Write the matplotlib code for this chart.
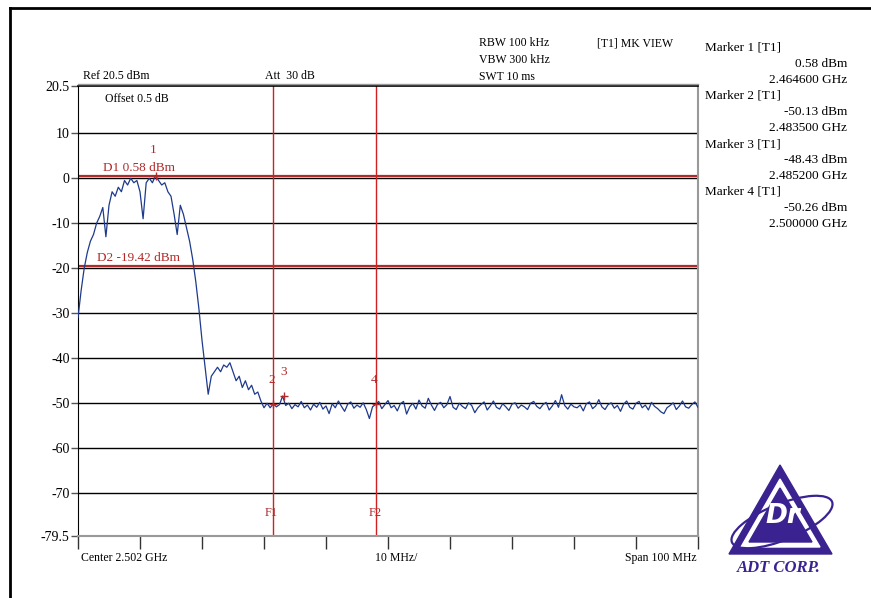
import numpy as np
import matplotlib
matplotlib.use("Agg")
import matplotlib.pyplot as plt
from matplotlib.patches import Polygon, Ellipse
from matplotlib.lines import Line2D

plt.rcParams['font.family'] = ['Liberation Serif', 'DejaVu Serif']

# sweep settings
f_start = 2452.0   # MHz
f_stop = 2552.0    # MHz
ref_level = 20.5
bottom_level = -79.5

# trace levels (dBm), one value per 0.5 MHz from 2452 to 2552 MHz
trace_lobe = [
    -31, -25, -20, -16.5, -14, -12.5, -10, -8.5, -6.5, -13,
    -6, -3, -4, -2, -3, -0.5, -1.5, 0, -1, -0.5,
    -3, -9, -1, 0, -1, 0.58, -0.5, -1.5, -1, -3,
    -4, -8, -12.5, -6, -8, -11, -14, -18, -23, -29,
    -36, -42, -48, -44, -43, -42, -43, -41.5, -42, -41,
    -43, -45, -44, -46.5, -45, -47, -46, -48, -47.5, -49.5,
    -51, -50, -51, -50.13, -50.8, -50.3, -48.4,
]
trace_floor = [
    -50.5, -50.0, -51.2, -50.3, -50.8, -49.6, -51.0, -50.4, -51.5, -50.2,
    -50.9, -49.8, -51.3, -50.6, -52.3, -50.1, -51.0, -49.5, -50.7, -51.8,
    -50.2, -49.7, -51.1, -50.4, -50.9, -49.9, -51.4, -53.4, -50.8, -50.26,
    -49.6, -51.2, -50.3, -49.4, -51.0, -50.5, -51.7, -50.1, -49.6, -52.4,
    -50.8, -50.0, -51.3, -49.3, -50.6, -51.1, -48.9, -50.4, -51.6, -50.2,
    -49.8, -51.0, -50.3, -48.5, -50.9, -51.4, -50.0, -50.7, -51.2, -49.9,
    -50.5, -52.1, -51.0, -50.3, -49.7, -51.5, -50.6, -49.5, -50.9, -51.3,
    -50.1, -50.8, -51.6, -50.2, -49.9, -51.1, -50.4, -50.8, -51.4, -50.0,
    -49.6, -50.7, -51.2, -50.3, -49.8, -51.5, -50.6, -49.4, -50.9, -48.1,
    -50.5, -51.3, -50.2, -50.8, -51.0, -50.4, -51.7, -50.1, -49.7, -51.2,
    -50.6, -49.2, -50.8, -51.4, -50.3, -49.9, -51.1, -50.5, -51.8, -50.2,
    -49.5, -50.9, -51.3, -50.0, -49.6, -51.0, -50.4, -51.5, -49.8, -50.7,
    -51.2, -51.9, -52.3, -51.0, -50.5, -49.9, -51.4, -50.6, -49.5, -50.8,
    -51.1, -50.3, -49.7, -50.9,
]
trace = np.array(trace_lobe + trace_floor)
freqs = np.linspace(f_start, f_stop, len(trace))

# markers
marker_freq = [2464.6, 2483.5, 2485.2, 2500.0]
marker_level = [0.58, -50.13, -48.43, -50.26]
display_lines = [0.58, -19.42]
freq_lines = [2483.5, 2500.0]

ytick_vals = [20.5, 10, 0, -10, -20, -30, -40, -50, -60, -70, -79.5]
ytick_labels = ["20.5", "10", "0", "-10", "-20", "-30", "-40", "-50", "-60", "-70", "-79.5"]

W, H = 871, 598
fig = plt.figure(figsize=(W / 100, H / 100), dpi=100)


def fx(px):
    return px / W


def fy(py):
    return 1 - py / H


ax = fig.add_axes([fx(78), fy(536), fx(698) - fx(78), fy(86) - fy(536)])
ax.set_xlim(f_start, f_stop)
ax.set_ylim(bottom_level, ref_level)

for lvl in [10, 0, -10, -20, -30, -40, -50, -60, -70]:
    ax.axhline(lvl, color="black", lw=1.0, zorder=1)

red = "#b22a2a"
for lvl in display_lines:
    ax.axhline(lvl, color=red, lw=1.6, zorder=2)
for f in freq_lines:
    ax.axvline(f, color="#d02020", lw=1.0, zorder=2)

ax.plot(freqs, trace, color="#1e3a8c", lw=0.9, zorder=3)

# marker symbols and labels
ax.plot(marker_freq, marker_level, "+", color=red, ms=6, mew=1, zorder=4)
ax.text(marker_freq[0] - 0.4, 6.2, "1", color=red, fontsize=9.5, ha="center", va="center")
ax.text(marker_freq[1] - 0.3, -44.9, "2", color=red, fontsize=9.5, ha="center", va="center")
ax.text(marker_freq[2] - 0.1, -43.1, "3", color=red, fontsize=9.5, ha="center", va="center")
ax.text(marker_freq[3] - 0.2, -44.9, "4", color=red, fontsize=9.5, ha="center", va="center")
ax.text(2456.0, 0.9, "D1 0.58 dBm", color=red, fontsize=9.5, ha="left", va="bottom")
ax.text(2455.1, -19.1, "D2 -19.42 dBm", color=red, fontsize=9.5, ha="left", va="bottom")
ax.text(freq_lines[0] - 0.3, -74.4, "F1", color=red, fontsize=9, ha="center", va="center")
ax.text(freq_lines[1], -74.4, "F2", color=red, fontsize=9, ha="center", va="center")
ax.text(2456.4, 17.5, "Offset 0.5 dB", fontsize=8.5, ha="left", va="center")

ax.set_yticks(ytick_vals)
ax.set_yticklabels(ytick_labels, fontsize=10)
ax.tick_params(axis="y", length=5, width=1, color="#555555", pad=1)
ax.set_xticks(np.arange(f_start, f_stop + 1, 10))
ax.set_xticklabels([])
ax.tick_params(axis="x", direction="out", length=9, width=1, color="#333333")

ax.spines["left"].set_color("black")
ax.spines["top"].set_color("black")
ax.spines["top"].set_linewidth(1.2)
ax.spines["right"].set_color("#999999")
ax.spines["bottom"].set_color("#999999")
ax.spines["right"].set_linewidth(1.5)
ax.spines["bottom"].set_linewidth(1.5)

# second thin line above the top border
fig.add_artist(Line2D([fx(78), fx(698)], [fy(84), fy(84)], color="#999999", lw=1))

# outer frame (cut at right and bottom)
fig.add_artist(Line2D([fx(10), 1.0], [fy(8), fy(8)], color="black", lw=2))
fig.add_artist(Line2D([fx(10), fx(10)], [fy(8), 0.0], color="black", lw=2))

# header texts
fig.text(fx(83), fy(76), "Ref 20.5 dBm", fontsize=8.5, va="center")
fig.text(fx(265), fy(76), "Att  30 dB", fontsize=8.5, va="center")
fig.text(fx(479), fy(43), "RBW 100 kHz", fontsize=8.5, va="center")
fig.text(fx(479), fy(60), "VBW 300 kHz", fontsize=8.5, va="center")
fig.text(fx(479), fy(77), "SWT 10 ms", fontsize=8.5, va="center")
fig.text(fx(597), fy(43), "[T1] MK VIEW", fontsize=8.5, va="center")

marker_rows = [
    ("Marker 1 [T1]", "0.58 dBm", "2.464600 GHz"),
    ("Marker 2 [T1]", "-50.13 dBm", "2.483500 GHz"),
    ("Marker 3 [T1]", "-48.43 dBm", "2.485200 GHz"),
    ("Marker 4 [T1]", "-50.26 dBm", "2.500000 GHz"),
]
row_y = 48
for name, lvl, freq in marker_rows:
    fig.text(fx(705), fy(row_y), name, fontsize=9.5, va="center")
    fig.text(fx(847), fy(row_y + 16), lvl, fontsize=9.5, va="center", ha="right")
    fig.text(fx(847), fy(row_y + 32), freq, fontsize=9.5, va="center", ha="right")
    row_y += 48

# footer texts
fig.text(fx(81), fy(558), "Center 2.502 GHz", fontsize=8.5, va="center")
fig.text(fx(375), fy(558), "10 MHz/", fontsize=8.5, va="center")
fig.text(fx(697), fy(558), "Span 100 MHz", fontsize=8.5, va="center", ha="right")

# logo
purple = "#3a2390"
lax = fig.add_axes([fx(715), fy(582), fx(130), fy(0) - fy(125)])
lax.set_xlim(715, 845)
lax.set_ylim(582, 457)
lax.axis("off")
lax.add_patch(Polygon([(780, 465), (729, 554), (832, 554)], closed=True, color=purple))
lax.add_patch(Polygon([(780, 479), (741, 547), (820, 547)], closed=True, color="white"))
lax.add_patch(Polygon([(780, 488), (749, 542), (812, 542)], closed=True, color=purple))
lax.add_patch(Ellipse((782, 522), 108, 36, angle=-22, fill=False, ec=purple, lw=1.6))
lax.text(783, 516, "Dr", fontsize=19, fontweight="bold", fontstyle="italic", color="white",
         ha="center", va="center", family="DejaVu Sans")
lax.text(779, 568, "ADT CORP.", fontsize=12, fontweight="bold", fontstyle="italic", color=purple,
         ha="center", va="center", family="Liberation Serif")

fig.savefig("out.png", dpi=100)
